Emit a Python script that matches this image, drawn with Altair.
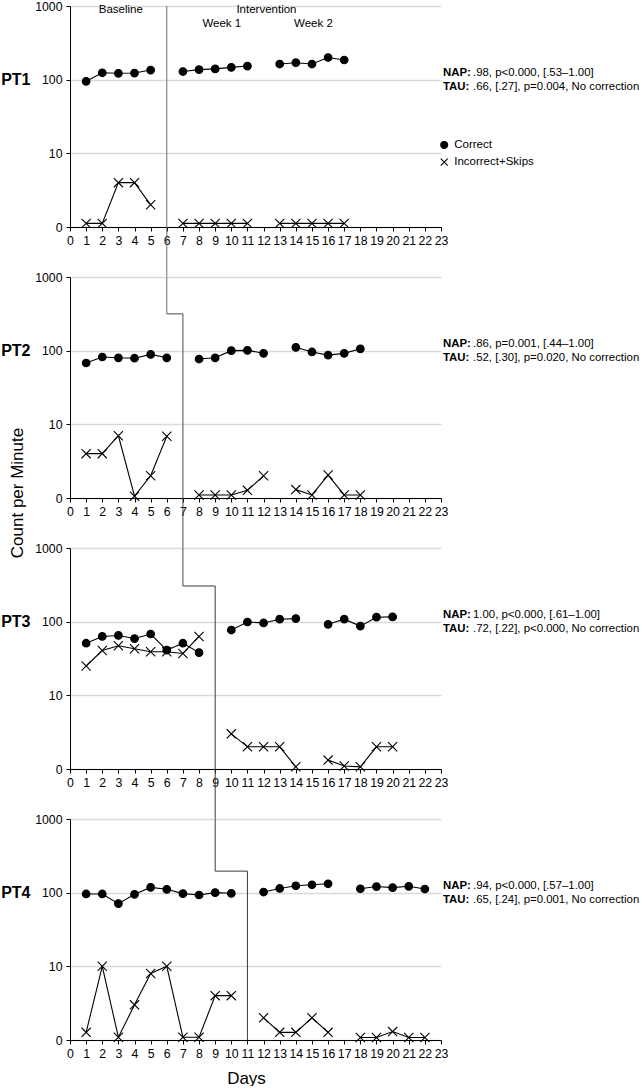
import altair as alt
import pandas as pd

# ---------------- data ----------------
pt1_days = [1, 2, 3, 4, 5, 7, 8, 9, 10, 11, 13, 14, 15, 16, 17]
pt1_correct = [95, 124, 122, 123, 135, 129, 137, 140, 147, 153, 163, 170, 163, 200, 185]
pt1_incorrect = [1.12, 1.12, 4.0, 4.0, 2.0, 1.12, 1.12, 1.12, 1.12, 1.12, 1.12, 1.12, 1.12, 1.12, 1.12]

pt2_days = [1, 2, 3, 4, 5, 6, 8, 9, 10, 11, 12, 14, 15, 16, 17, 18]
pt2_correct = [68, 82, 80, 79, 89, 80, 77, 80, 100, 101, 92, 111, 96, 87, 92, 106]
pt2_incorrect = [4.0, 4.0, 7.0, 1.06, 2.0, 6.9, 1.1, 1.1, 1.1, 1.27, 2.0, 1.3, 1.1, 2.05, 1.1, 1.1]

pt3_days = [1, 2, 3, 4, 5, 6, 7, 8, 10, 11, 12, 13, 14, 16, 17, 18, 19, 20]
pt3_correct = [51, 63, 65, 59, 68, 41, 51, 38, 77, 99, 96, 108, 110, 92, 108, 87, 115, 116]
pt3_incorrect = [25, 40.5, 47, 43, 39, 39, 37, 63, 3.0, 2.0, 2.0, 2.0, 1.07, 1.32, 1.1, 1.07, 2.0, 2.0]

pt4_days = [1, 2, 3, 4, 5, 6, 7, 8, 9, 10, 12, 13, 14, 15, 16, 18, 19, 20, 21, 22]
pt4_correct = [96, 96, 71, 95, 118, 111, 97, 93, 100, 98, 102, 114, 124, 128, 132, 113, 121, 117, 122, 112]
pt4_incorrect = [1.27, 10, 1.09, 3.0, 8.0, 10, 1.09, 1.09, 4.0, 4.0, 2.0, 1.27, 1.27, 2.0, 1.27, 1.08, 1.08, 1.3, 1.08, 1.08]

panel_names = ["PT1", "PT2", "PT3", "PT4"]
phase_change_day = [6, 7, 9, 11]
step_level = [None, 316, 305, 196]

nap_text = [".98, p<0.000, [.53\u20131.00]", ".86, p=0.001, [.44\u20131.00]",
            "1.00, p<0.000, [.61\u20131.00]", ".94, p<0.000, [.57\u20131.00]"]
tau_text = [".66, [.27], p=0.004, No correction", ".52, [.30], p=0.020, No correction",
            ".72, [.22], p<0.000, No correction", ".65, [.24], p=0.001, No correction"]

phase_labels = ["Baseline", "Intervention", "Week 1", "Week 2"]
phase_label_x = [3.15, 12.18, 9.41, 15.09]
phase_label_y = [870, 870, 575, 575]

series_names = ["Correct", "Incorrect+Skips"]
legend_x = [23.2, 23.2]
legend_y = [13.0, 7.6]

y_ticks = [1, 10, 100, 1000]
x_ticks = list(range(0, 24))

# ---------------- layout ----------------
W = 371
H = 221
SP = 50
FONT = "Liberation Sans"
LINE_GRAY = ["#6e6e6e", "#4a4a4a", "#3a3a3a", "#3a3a3a"]

all_days = [pt1_days, pt2_days, pt3_days, pt4_days]
all_corr = [pt1_correct, pt2_correct, pt3_correct, pt4_correct]
all_inc = [pt1_incorrect, pt2_incorrect, pt3_incorrect, pt4_incorrect]

xscale = alt.Scale(domain=[0, 23], nice=False, zero=False)
yscale = alt.Scale(type="log", domain=[1, 1000], nice=False)
shape_scale = alt.Scale(domain=series_names, range=["circle", "M-1,-1L1,1M1,-1L-1,1"])
fill_scale = alt.Scale(domain=series_names, range=["black", "transparent"])
size_scale = alt.Scale(domain=series_names, range=[58, 85])


def make_df(days, corr, inc):
    rows = []
    seg = 0
    prev = None
    for d, c, i in zip(days, corr, inc):
        if prev is not None and d - prev > 1:
            seg += 1
        prev = d
        rows.append({"day": d, "value": c, "series": series_names[0], "seg": seg})
        rows.append({"day": d, "value": i, "series": series_names[1], "seg": seg})
    return pd.DataFrame(rows)


def panel(k):
    name = panel_names[k]
    df = make_df(all_days[k], all_corr[k], all_inc[k])
    last = k == 3
    lc = LINE_GRAY[k]

    x_axis = alt.Axis(values=x_ticks, labelFontSize=12.3, labelColor="black", tickColor="black",
                      domainColor="black", tickSize=4, ticks=True, labelPadding=3,
                      labelFlush=False, labelOverlap=False, grid=False, format="d",
                      title="Days" if last else None, titleFontSize=17, titleFontWeight="normal",
                      titleColor="black", titleX=176, titleY=38, titleBaseline="middle",
                      titleAlign="center")
    y_axis = alt.Axis(values=y_ticks,
                      labelExpr="datum.value < 1.5 ? '0' : format(datum.value, 'd')",
                      title=name, titleAngle=0, titleFontWeight="bold", titleFontSize=16,
                      titleColor="black", titleAlign="right", titleBaseline="middle",
                      titleX=-40, titleY=H / 3, grid=True, gridColor="#d9d9d9", gridWidth=1.3,
                      tickSize=4, tickColor="black", domainColor="black", labelFontSize=12.3,
                      labelColor="black", labelPadding=4)

    def X(f):
        return alt.X(f, scale=xscale, axis=x_axis)

    def Y(f):
        return alt.Y(f, scale=yscale, axis=y_axis)

    base = alt.Chart(df)
    lines = base.mark_line(color="black", strokeWidth=1.1).encode(
        x=X("day:Q"), y=Y("value:Q"), detail=["series:N", "seg:O"],
    )
    points = base.mark_point(stroke="black", strokeWidth=1.1, opacity=1).encode(
        x=X("day:Q"), y=Y("value:Q"),
        shape=alt.Shape("series:N", scale=shape_scale, legend=None),
        fill=alt.Fill("series:N", scale=fill_scale, legend=None),
        size=alt.Size("series:N", scale=size_scale, legend=None),
    )

    layers = []
    # phase-change staircase line
    cur = phase_change_day[k]
    if k == 0:
        top = pd.DataFrame({"x": [cur], "y": [1000]})
        layers.append(alt.Chart(top).mark_rule(color=lc, strokeWidth=1).encode(
            x=X("x:Q"), y=Y("y:Q"), y2=alt.value(H + SP)))
    else:
        prev = phase_change_day[k - 1]
        lvl = step_level[k]
        up = pd.DataFrame({"x": [prev], "y": [1000], "y2": [lvl]})
        layers.append(alt.Chart(up).mark_rule(color=LINE_GRAY[k - 1], strokeWidth=1).encode(
            x=X("x:Q"), y=Y("y:Q"), y2="y2:Q"))
        hz = pd.DataFrame({"x": [prev], "x2": [cur], "y": [lvl]})
        layers.append(alt.Chart(hz).mark_rule(color=lc, strokeWidth=1).encode(
            x=X("x:Q"), x2="x2:Q", y=Y("y:Q")))
        down = pd.DataFrame({"x": [cur], "y": [lvl], "y2": [1]})
        if last:
            layers.append(alt.Chart(down).mark_rule(color=lc, strokeWidth=1).encode(
                x=X("x:Q"), y=Y("y:Q"), y2="y2:Q"))
        else:
            layers.append(alt.Chart(down).mark_rule(color=lc, strokeWidth=1).encode(
                x=X("x:Q"), y=Y("y:Q"), y2=alt.value(H + SP)))

    layers += [lines, points]

    # statistics text
    stats = pd.DataFrame({"x": [23, 23], "y": [123, 80], "key": ["NAP:", "TAU:"],
                          "rest": [nap_text[k], tau_text[k]]})
    sc = alt.Chart(stats)
    layers.append(sc.mark_text(align="left", baseline="middle", fontWeight="bold",
                               fontSize=11.4, dx=2, color="black").encode(
        x=X("x:Q"), y=Y("y:Q"), text="key:N"))
    layers.append(sc.mark_text(align="left", baseline="middle", fontSize=11.4, dx=32,
                               color="black").encode(
        x=X("x:Q"), y=Y("y:Q"), text="rest:N"))

    if k == 0:
        ph = pd.DataFrame({"x": phase_label_x, "y": phase_label_y, "t": phase_labels})
        layers.append(alt.Chart(ph).mark_text(align="center", baseline="middle", fontSize=11.5,
                                              color="black").encode(
            x=X("x:Q"), y=Y("y:Q"), text="t:N"))
        lg = pd.DataFrame({"x": legend_x, "y": legend_y, "series": series_names})
        lgc = alt.Chart(lg)
        layers.append(lgc.mark_point(stroke="black", strokeWidth=1.1, opacity=1).encode(
            x=X("x:Q"), y=Y("y:Q"),
            shape=alt.Shape("series:N", scale=shape_scale, legend=None),
            fill=alt.Fill("series:N", scale=fill_scale, legend=None),
            size=alt.value(48)))
        layers.append(lgc.mark_text(align="left", baseline="middle", fontSize=11.5, dx=10,
                                    color="black").encode(
            x=X("x:Q"), y=Y("y:Q"), text="series:N"))
    if k == 1:
        yt = pd.DataFrame({"t": ["Count per Minute"]})
        layers.append(alt.Chart(yt).mark_text(angle=270, align="center", baseline="middle",
                                              fontSize=17, color="black").encode(
            x=alt.value(-52), y=alt.value(216), text="t:N"))

    return alt.layer(*layers).properties(width=W, height=H)


chart = alt.vconcat(*[panel(k) for k in range(4)], spacing=SP, bounds="flush").properties(
    padding={"left": 0, "top": 0, "right": 0, "bottom": 0}
).configure(font=FONT).configure_view(stroke=None)

chart.save("out.html", embed_options={"renderer": "svg", "actions": False})
